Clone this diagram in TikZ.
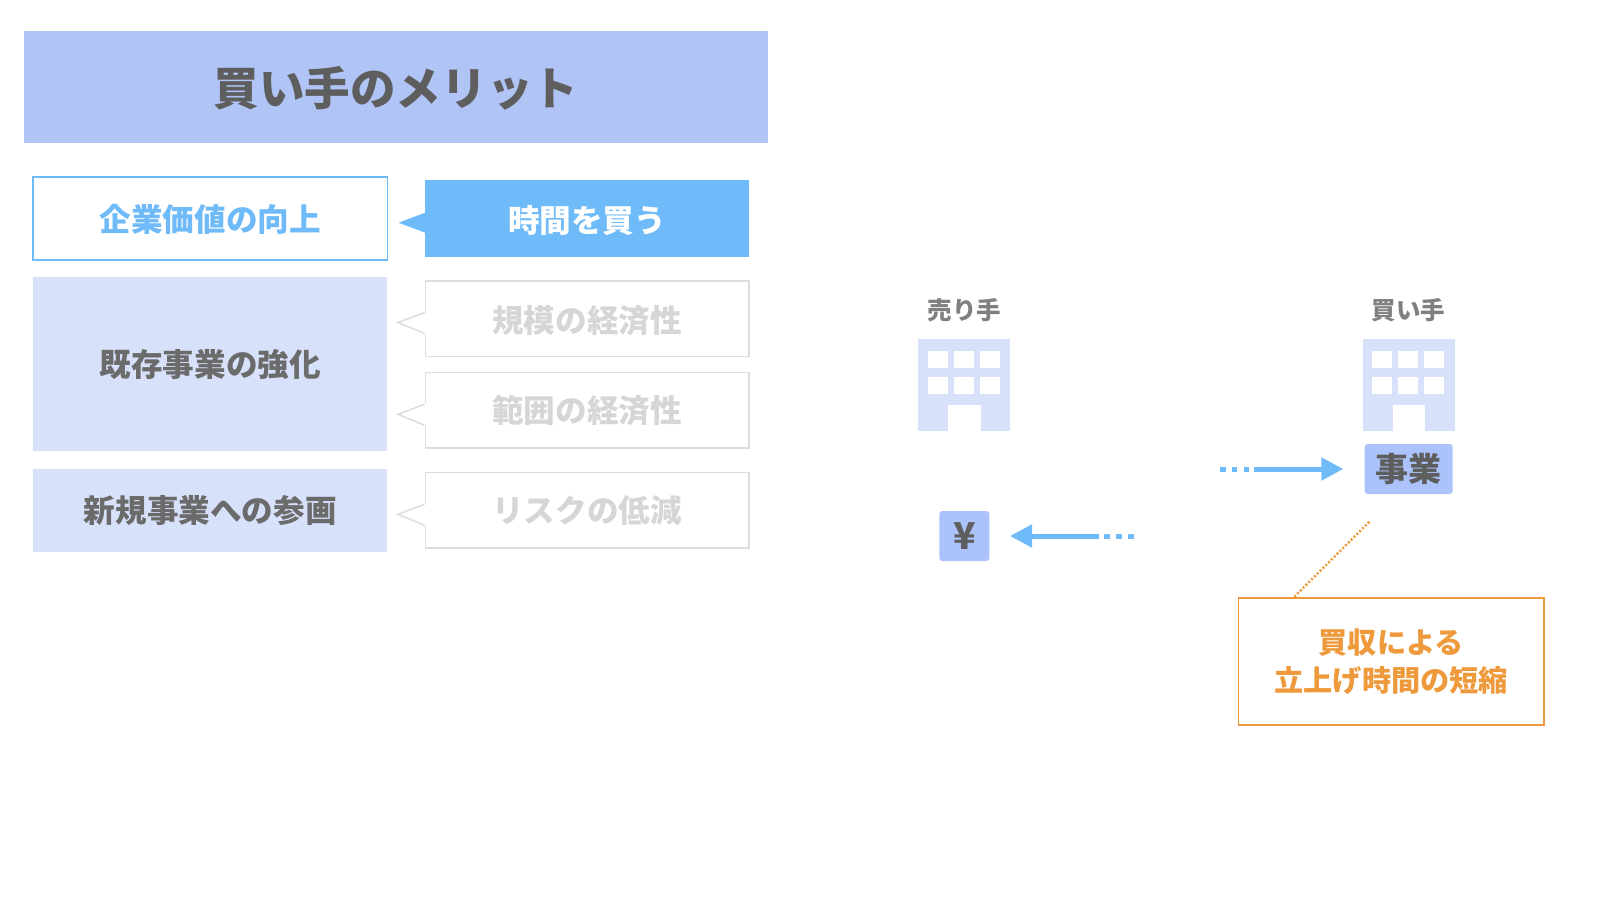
\documentclass[tikz,border=0pt]{standalone}
\usepackage{fontspec}
\setmainfont{Noto Sans CJK JP}
\usetikzlibrary{arrows.meta}
\definecolor{headblue}{HTML}{B0C5F6}
\definecolor{assetblue}{HTML}{ABC3FA}
\definecolor{paleblue}{HTML}{D7E1FA}
\definecolor{skyblue}{HTML}{6FBBF9}
\definecolor{softgray}{HTML}{DDDDDD}
\definecolor{fadetext}{HTML}{D6D6D6}
\definecolor{darktext}{HTML}{5E5E5E}
\definecolor{midtext}{HTML}{6B6B6B}
\definecolor{notetext}{HTML}{EE9A3C}
\newcommand{\dropped}[2]{\raisebox{-#1pt}[\height][\depth]{#2}}
\tikzset{
  boxtext/.style={font=\fontsize{31.6}{36}\selectfont\bfseries, inner sep=0pt},
  goalbox/.style={boxtext, minimum width=354.5pt},
  meritbox/.style={boxtext, minimum width=323.5pt, minimum height=75.5pt},
  graybox/.style={meritbox, draw=softgray, line width=1.5pt, text=fadetext},
  graytip/.style={draw=softgray, line width=1.5pt, fill=white},
  owner/.style={font=\fontsize{24.5}{28}\selectfont\bfseries, text=gray, inner sep=0pt},
  assetbox/.style={fill=assetblue, rounded corners=3pt, inner sep=0pt, text=darktext, font=\fontsize{33}{36}\selectfont\bfseries},
  flow/.style={skyblue, line width=5pt},
  flowdots/.style={skyblue, line width=5pt, dash pattern=on 5.5pt off 6.3pt}
}
\begin{document}
\begin{tikzpicture}[x=1pt, y=-1pt]
  \useasboundingbox (0,0) rectangle (1600,900);
  % Title
  \node[fill=headblue, minimum width=743.5pt, minimum height=112.5pt, inner sep=0pt, text=darktext, font=\fontsize{45.6}{50}\selectfont\bfseries] (title) at (395.8,87.2) {\dropped{1.5}{買い手のメリット}};
  % Left column
  \node[goalbox, draw=skyblue, line width=1.5pt, minimum height=83pt, text=skyblue] (value) at (210.2,218.5) {\dropped{1}{企業価値の向上}};
  \node[goalbox, fill=paleblue, minimum height=174pt, text=midtext] (core) at (210.2,364.3) {既存事業の強化};
  \node[goalbox, fill=paleblue, minimum height=83pt, text=midtext] (newbiz) at (210.2,510.5) {新規事業への参画};
  % Right column
  \node[meritbox, fill=skyblue, minimum height=76.7pt, text=white] (time) at (587,218.7) {\dropped{1.5}{時間を買う}};
  \node[graybox] (scale) at (587,318.5) {\dropped{2}{規模の経済性}};
  \node[graybox] (scope) at (587,410.3) {範囲の経済性};
  \node[graybox] (risk) at (587,510.3) {リスクの低減};
  \fill[skyblue] ([yshift=6pt]time.west) -- ([xshift=-26.5pt,yshift=-4pt]time.west) -- ([yshift=-14pt]time.west) -- cycle;
  \foreach \nm in {scale,scope,risk} {
    \fill[white] ([xshift=1.5pt,yshift=6pt]\nm.west) rectangle ([yshift=-15pt]\nm.west);
    \draw[graytip] ([yshift=6pt]\nm.west) -- ([xshift=-26.5pt,yshift=-4pt]\nm.west) -- ([yshift=-15pt]\nm.west);
  }
  % Seller
  \node[owner] (seller) at (964.3,310) {売り手};
  \fill[paleblue] (918.3,339) rectangle (1010.3,430.5);
  \foreach \xx in {928,954,980} {
    \foreach \yy in {351,377} {
      \fill[white] (\xx,\yy) rectangle ++(20,16.5);
    }
  }
  \fill[white] (948.2,405) rectangle (980.5,430.5);
  \node[assetbox, minimum width=50pt, minimum height=50pt, font=\fontsize{37}{40}\selectfont\bfseries] (yen) at (964.3,536) {¥};
  % Buyer
  \node[owner] (buyer) at (1408.7,310) {買い手};
  \fill[paleblue] (1362.7,339) rectangle (1454.7,430.5);
  \foreach \xx in {1372.4,1398.4,1424.4} {
    \foreach \yy in {351,377} {
      \fill[white] (\xx,\yy) rectangle ++(20,16.5);
    }
  }
  \fill[white] (1392.6,405) rectangle (1424.9,430.5);
  \node[assetbox, minimum width=88pt, minimum height=50pt] (biz) at (1408.7,469) {事業};
  % Flows
  \coordinate (paystart) at (1098,536);
  \coordinate (payend) at (1010,536);
  \coordinate (paydots) at (1133.5,536);
  \coordinate (bizstart) at (1254.3,469);
  \coordinate (bizend) at (1343.3,469);
  \coordinate (bizdots) at (1220,469);
  \draw[flow, -{Triangle[length=22pt,width=22pt]}] (paystart) -- (payend);
  \draw[flowdots] (paydots) -- (paystart);
  \draw[flow, -{Triangle[length=22pt,width=22pt]}] (bizstart) -- (bizend);
  \draw[flowdots] (bizdots) -- (bizstart);
  % Note
  \node[draw=notetext, line width=1.5pt, minimum width=305.5pt, minimum height=127pt, inner sep=0pt, align=center, text=notetext, font=\fontsize{29.2}{38}\selectfont\bfseries] (note) at (1391.3,661.7) {買収による\\立上げ時間の短縮};
  \coordinate (notefoot) at (1294.3,596.7);
  \coordinate (notehead) at (1369.3,521.7);
  \draw[notetext, line width=2.5pt, dash pattern=on 2pt off 2pt] (notefoot) -- (notehead);
\end{tikzpicture}
\end{document}
